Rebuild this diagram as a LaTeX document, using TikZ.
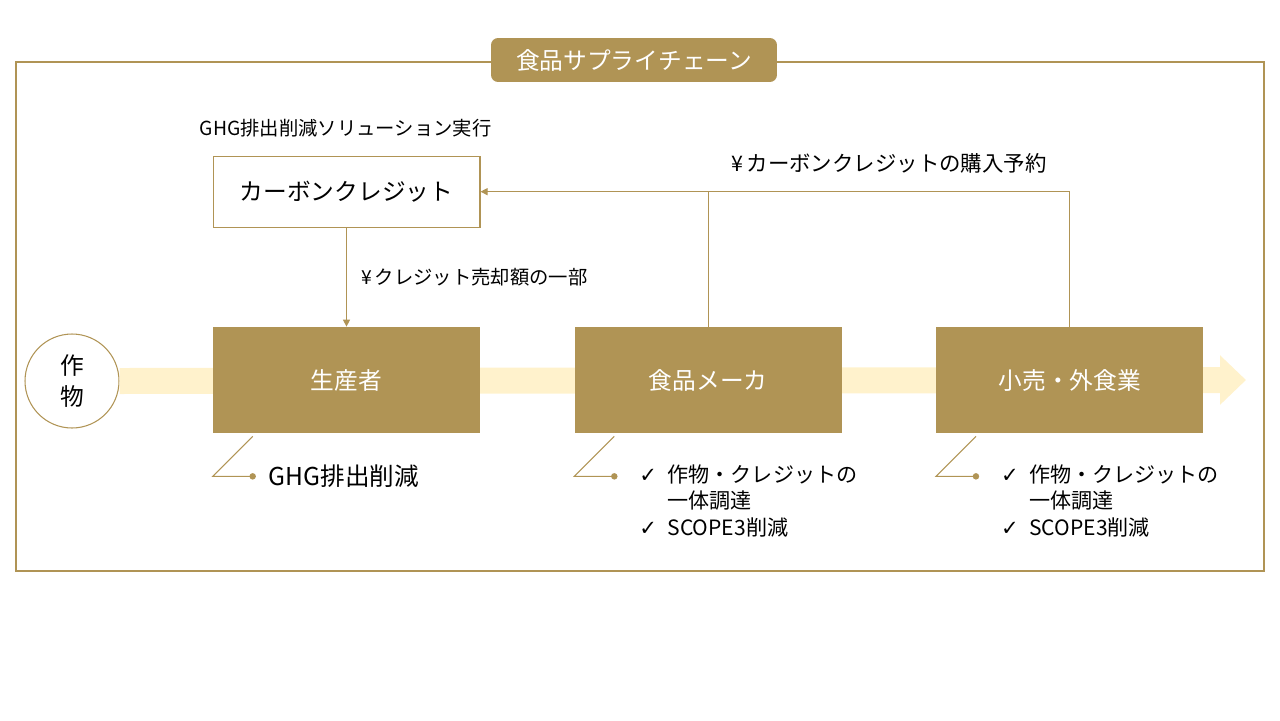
\documentclass[tikz,border=0pt]{standalone}
\usepackage{fontspec}
\setmainfont{Noto Sans CJK JP}
\newfontfamily\symfont{DejaVu Sans}
\usetikzlibrary{arrows.meta,positioning}
\definecolor{gold}{HTML}{B09455}
\definecolor{cream}{HTML}{FFF2CC}
\newcommand{\chk}{{\symfont ✓}}

\begin{document}
\begin{tikzpicture}[x=0.02cm, y=-0.02cm, >={Triangle[length=4pt,width=4pt]},
  node distance=1.88cm,
  stage/.style={fill=gold, text=white, minimum width=5.34cm, minimum height=2.12cm, inner sep=0pt, font=\fontsize{13.5}{16}\selectfont},
  link/.style={draw=gold, line width=0.6pt},
  dot/.style={circle, fill=gold, inner sep=0pt, minimum size=0.13cm},
  note/.style={inner sep=0pt, font=\fontsize{12}{15}\selectfont}]
\useasboundingbox (0,0) rectangle (1280,720);
% frame and title
\draw[gold, line width=0.6pt] (16,62) rectangle (1264,571);
\node[fill=gold, text=white, rounded corners=4pt, minimum width=5.72cm, minimum height=0.88cm, font=\fontsize{13.5}{16}\selectfont] (chain) at (634,60) {食品サプライチェーン};
% flow band
\node[circle, draw=gold, line width=0.6pt, minimum size=1.88cm, align=center, inner sep=0pt, font=\fontsize{13.5}{17.6}\selectfont] (crop) at (72,381) {作\\物};
\coordinate (tip) at (1246,380);
\draw[cream, line width=0.52cm, -{Triangle[length=0.52cm,width=0.96cm]}] (crop.east) -- (tip);
\node[stage] (prod) at (346.5,380) {生産者};
\node[stage, right=of prod] (maker) {食品メーカ};
\node[stage, right=of maker] (retail) {小売・外食業};
% credit
\node[draw=gold, line width=0.6pt, minimum width=5.34cm, minimum height=1.42cm, font=\fontsize{13.5}{16}\selectfont, above=1.98cm of prod] (credit) {カーボンクレジット};
\node[above right=0.36cm and -0.26cm of credit.north west, inner sep=0pt, font=\fontsize{11}{13}\selectfont] (solution) {GHG排出削減ソリューション実行};
\draw[link,->] (credit) -- node[right=0.28cm, inner sep=0pt, font=\fontsize{11}{14}\selectfont] (share) {¥\,クレジット売却額の一部} (prod);
\draw[link,->] (retail.north) |- (credit.east);
\draw[link] (maker.north) -- (maker.north |- credit.east);
\path (maker.north |- credit.east) -- node[above=0.36cm, inner sep=0pt, font=\fontsize{12.2}{15}\selectfont] (reserve) {¥\,カーボンクレジットの購入予約} (retail.north |- credit.east);
% callouts
\foreach \s/\d in {prod/p, maker/m, retail/r}
  \draw[link] ([shift={(40,3)}]\s.south west) -- ++(-40,40) -- ++(40,0) node[dot] (dot\d) {};
\node[note, right=0.24cm of dotp, font=\fontsize{14}{16}\selectfont] (ghg) {GHG排出削減};
\node[note, anchor=base west] (listm) at ([shift={(21,6)}]dotm.east)
  {\begin{tabular}[t]{@{}l@{\hspace{0.5em}}l@{}}\chk & 作物・クレジットの\\ & 一体調達\\ \chk & SCOPE3削減\end{tabular}};
\node[note, anchor=base west] (listr) at ([shift={(21,6)}]dotr.east)
  {\begin{tabular}[t]{@{}l@{\hspace{0.5em}}l@{}}\chk & 作物・クレジットの\\ & 一体調達\\ \chk & SCOPE3削減\end{tabular}};
\end{tikzpicture}
\end{document}
